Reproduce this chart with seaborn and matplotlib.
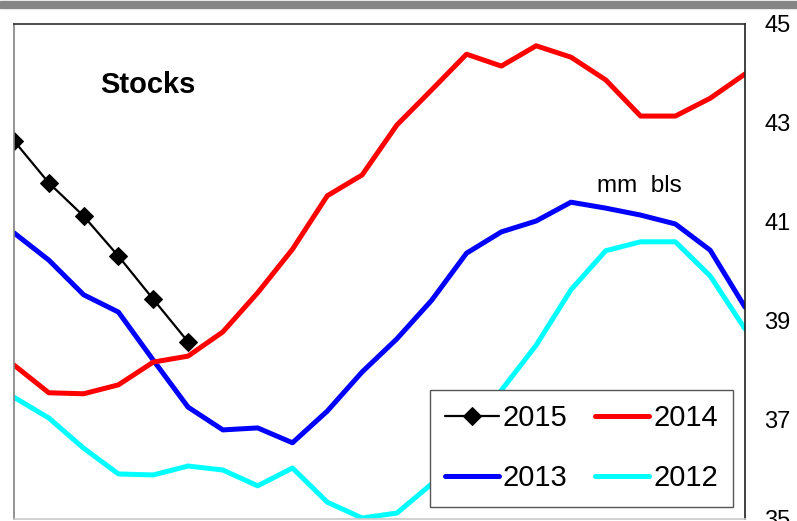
import numpy as np
import pandas as pd
import seaborn as sns
import matplotlib.pyplot as plt
from matplotlib.patches import Rectangle

# stocks, mm bls, par semaine
x = list(range(22))
y2015 = [42.64, 41.79, 41.12, 40.31, 39.44, 38.58]
y2014 = [38.11, 37.55, 37.53, 37.71, 38.17, 38.29, 38.78, 39.57, 40.45, 41.53, 41.95,
         42.96, 43.67, 44.39, 44.15, 44.56, 44.33, 43.87, 43.14, 43.14, 43.50, 43.99]
y2013 = [40.78, 40.23, 39.53, 39.18, 38.21, 37.26, 36.80, 36.84, 36.54, 37.18, 37.97,
         38.64, 39.42, 40.37, 40.80, 41.02, 41.40, 41.28, 41.14, 40.96, 40.43, 39.28]
y2012 = [37.46, 37.04, 36.43, 35.91, 35.89, 36.07, 35.99, 35.67, 36.03, 35.34, 35.02,
         35.12, 35.71, 36.60, 37.60, 38.51, 39.63, 40.42, 40.60, 40.60, 39.91, 38.84]
yticks = [35, 37, 39, 41, 43, 45]

sns.set_style('white')
plt.rcParams['font.family'] = ['Liberation Sans', 'DejaVu Sans']
plt.rcParams['text.color'] = 'black'
plt.rcParams['ytick.color'] = 'black'

fig = plt.figure(figsize=(7.97, 5.21), dpi=100)
ax = fig.add_axes([14/797, 2/521, 731/797, 495/521])

# bande grise en haut
fig.patches.append(Rectangle((0, 1 - 8/521), 1, 7/521, transform=fig.transFigure,
                             color='#858585', zorder=0))

sns.lineplot(x=x, y=y2012, color='#00ffff', lw=3.6, ax=ax, label='2012')
sns.lineplot(x=x, y=y2013, color='#0000ff', lw=3.6, ax=ax, label='2013')
sns.lineplot(x=x, y=y2014, color='#ff0000', lw=3.6, ax=ax, label='2014')
sns.lineplot(x=x[:len(y2015)], y=y2015, color='black', lw=1.6, marker='D',
             markersize=9, markeredgecolor='black', ax=ax, label='2015')

ax.set_xlim(0, 21)
ax.set_ylim(35, 45)
ax.set_xticks([])
ax.yaxis.tick_right()
ax.set_yticks(yticks)
ax.tick_params(axis='y', length=0, pad=14, labelsize=17, labelcolor='black')

ax.spines['left'].set_color('#808080')
ax.spines['top'].set_color('#303030')
ax.spines['right'].set_color('#202020')
ax.spines['bottom'].set_color('#c8c8c8')
for s in ax.spines.values():
    s.set_linewidth(1.2)

ax.text(0.1176, 0.8606, 'Stocks', transform=ax.transAxes, fontsize=21,
        fontweight='bold', va='baseline', color='black')
ax.text(0.7975, 0.6606, 'mm  bls', transform=ax.transAxes, fontsize=17.5,
        va='baseline', color='black')

h, l = ax.get_legend_handles_labels()
order = ['2015', '2013', '2014', '2012']
hh = [h[l.index(k)] for k in order]
leg = ax.legend(hh, order, ncol=2, loc='lower right', bbox_to_anchor=(0.9836, 0.0242),
                borderaxespad=0, fontsize=21, handlelength=1.85, handletextpad=0.15,
                columnspacing=0.95, labelspacing=1.1, borderpad=0.5, fancybox=False,
                framealpha=1, edgecolor='#555555')
leg.get_frame().set_linewidth(1.0)
for t in leg.get_texts():
    t.set_color('black')

fig.savefig('out.png', dpi=100)
